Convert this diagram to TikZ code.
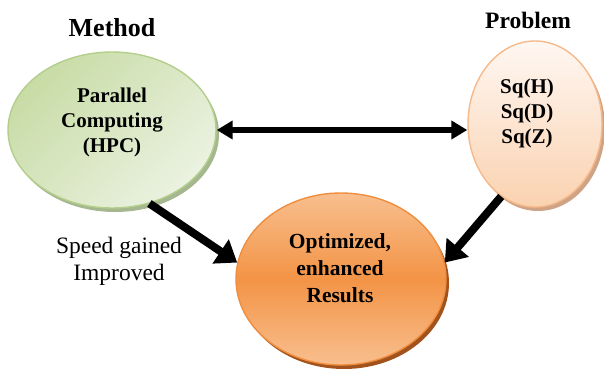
\documentclass[tikz,border=0pt]{standalone}
\usepackage{fontspec}
\setmainfont{Liberation Serif}
\usetikzlibrary{shapes.geometric,arrows.meta}

\definecolor{greenA}{HTML}{C8DCA6}
\definecolor{greenB}{HTML}{EBF2E1}
\definecolor{greenEdge}{HTML}{B4CE8C}
\definecolor{greenShade}{HTML}{A4B78E}
\definecolor{peachTop}{HTML}{FFF7F2}
\definecolor{peachBot}{HTML}{FAD2B0}
\definecolor{peachEdge}{HTML}{F6B98A}
\definecolor{peachShade}{HTML}{CFA385}
\definecolor{orangeLight}{HTML}{F8BF8E}
\definecolor{orangeMid}{HTML}{F39446}
\definecolor{orangeEdge}{HTML}{EE8E3E}
\definecolor{orangeShade}{HTML}{A2521C}

\tikzset{
  blob/.style={ellipse, inner sep=0pt, line width=1.4pt},
  heading/.style={font=\bfseries\fontsize{#1}{#1}\selectfont, anchor=base, inner sep=0pt},
  inner/.style={font=\bfseries\fontsize{21}{25}\selectfont, align=center, inner sep=0pt},
  note/.style={font=\fontsize{23.5}{27}\selectfont, align=center, inner sep=0pt},
  thinlink/.style={line width=5.5pt, {Triangle[length=16pt,width=18pt]}-{Triangle[length=16pt,width=18pt]}},
  boldlink/.style={line width=8pt, -{Triangle[length=20pt,width=28pt]}},
}

\begin{document}
\begin{tikzpicture}[x=1pt,y=-1pt]
  \useasboundingbox (0,0) rectangle (604,370);

  % drop shadows behind the three shapes
  \fill[greenShade]  (115,134) ellipse [x radius=104, y radius=78];
  \fill[peachShade]  (538,128) ellipse [x radius=67, y radius=83];
  \fill[orangeShade] (344,283) ellipse [x radius=105, y radius=86];

  % the three shapes
  \node[blob, draw=greenEdge, top color=greenA, bottom color=greenB, shading angle=45,
        minimum width=208pt, minimum height=156pt] (green) at (112,130) {};
  \node[blob, draw=peachEdge, top color=peachTop, bottom color=peachBot,
        minimum width=134pt, minimum height=166pt] (problem) at (535,124) {};
  \node[blob, draw=orangeEdge, top color=orangeLight, bottom color=orangeLight, middle color=orangeMid,
        minimum width=210pt, minimum height=172pt] (result) at (341,279) {};

  % headings
  \node[heading=26] (method) at (112,36) {Method};
  \node[heading=23.5] (problemhead) at (528,28) {Problem};

  % texts inside the shapes
  \node[inner] (greentext) at (112,122) {Parallel\\Computing\\(HPC)};
  \node[inner] (problemtext) at (527,113) {Sq(H)\\Sq(D)\\Sq(Z)};
  \node[inner, font=\bfseries\fontsize{21.5}{27}\selectfont] (resulttext) at (340,268)
        {Optimized,\\enhanced\\Results};

  % label beside the lower-left arrow
  \node[note] (speed) at (119,261) {Speed gained\\Improved};

  % connectors
  \draw[thinlink] (green.east) -- (green.east -| problem.west);
  \draw[boldlink] (green.-63) -- (result.171);
  \draw[boldlink] (problem.245) -- (result.9);
\end{tikzpicture}
\end{document}
